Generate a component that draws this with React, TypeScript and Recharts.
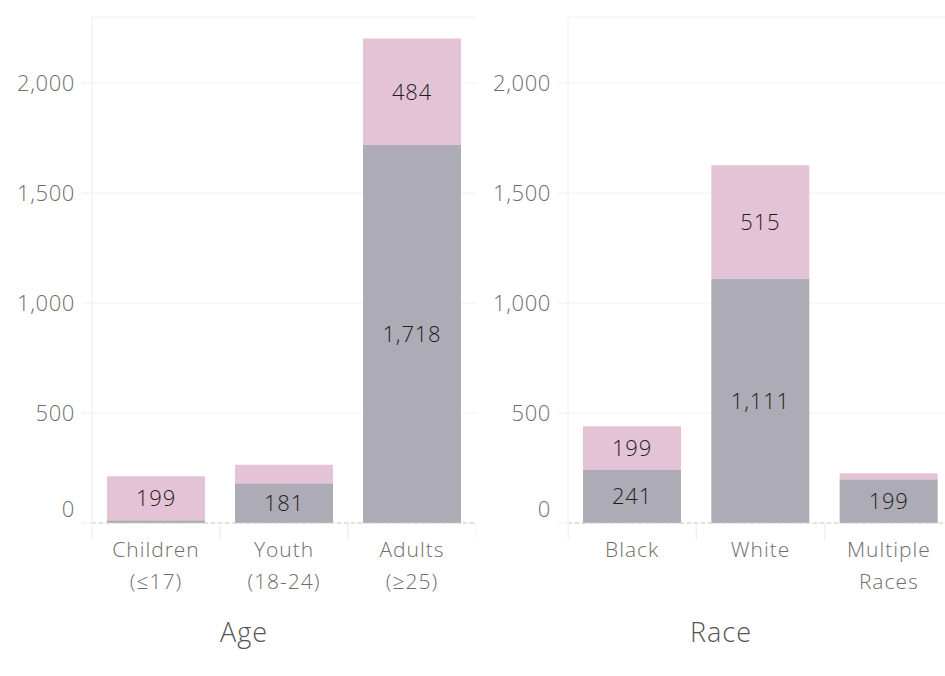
import React from 'react'
import {
  BarChart, Bar, XAxis, YAxis, CartesianGrid, ReferenceLine, LabelList
} from 'recharts'

const ageCategories = ['Children (≤17)', 'Youth (18-24)', 'Adults (≥25)']
const ageTickLines = [['Children', '(≤17)'], ['Youth', '(18-24)'], ['Adults', '(≥25)']]
const ageBase = [13, 181, 1718]
const ageTop = [199, 84, 484]

const raceCategories = ['Black', 'White', 'Multiple Races']
const raceTickLines = [['Black'], ['White'], ['Multiple', 'Races']]
const raceBase = [241, 1111, 199]
const raceTop = [199, 515, 27]

const yTicks = [0, 500, 1000, 1500, 2000]

const FONT = '"Open Sans", sans-serif'
const GRAY = '#adabb5'
const PINK = '#e4c3d7'

const fmt = (v: number) => v.toLocaleString('en-US')

function YTick(props: any) {
  const { x, y, payload } = props
  const shift = payload.value === 0 ? -14 : 0
  return (
    <text x={x} y={y + shift} dy={8} textAnchor="end" fill="#6e6e6e"
      fontFamily={FONT} fontSize={22} fontWeight={300} letterSpacing={0.6}>
      {fmt(payload.value)}
    </text>
  )
}

function makeXTick(lines: string[][]) {
  return function XTick(props: any) {
    const { x, y, payload } = props
    const rows = lines[payload.index] || [String(payload.value)]
    return (
      <g>
        <line x1={x - 64} x2={x - 64} y1={y} y2={y + 17} stroke="#eeeeee" />
        <line x1={x + 64} x2={x + 64} y1={y} y2={y + 17} stroke="#eeeeee" />
        {rows.map((r, i) => (
          <text key={i} x={x} y={y + 34 + i * 32} textAnchor="middle" fill="#6e6e6e"
            fontFamily={FONT} fontSize={21} fontWeight={300} letterSpacing={1}>
            {r}
          </text>
        ))}
      </g>
    )
  }
}

function BarLabel(props: any) {
  const { x, y, width, height, value } = props
  if (value < 150) return null
  return (
    <text x={x + width / 2} y={y + height / 2} dy={8} textAnchor="middle" fill="#1e1e1e"
      fontFamily={FONT} fontSize={22} fontWeight={300} letterSpacing={0.8}>
      {fmt(value)}
    </text>
  )
}

function Panel({ cats, base, top, lines, width }: {
  cats: string[]; base: number[]; top: number[]; lines: string[][]; width: number
}) {
  const data = cats.map((c, i) => ({ name: c, base: base[i], top: top[i] }))
  return (
    <BarChart width={width} height={676} data={data}
      margin={{ top: 17, right: 0, bottom: 0, left: 0 }}>
      <CartesianGrid horizontal vertical={false} stroke="#f0f0f0" />
      <XAxis dataKey="name" type="category" height={153} axisLine={false}
        tickLine={false} tickSize={0} tickMargin={0} interval={0}
        tick={makeXTick(lines)} />
      <YAxis width={92} domain={[0, 2300]} ticks={yTicks} interval={0}
        axisLine={{ stroke: '#eeeeee' }} tickLine={{ stroke: '#eeeeee' }}
        tickSize={10} tickMargin={7} tick={<YTick />} />
      <ReferenceLine y={0} stroke="#cccccc" strokeDasharray="4 3" />
      <Bar dataKey="base" stackId="s" fill={GRAY} barSize={98} isAnimationActive={false}>
        <LabelList dataKey="base" content={<BarLabel />} />
      </Bar>
      <Bar dataKey="top" stackId="s" fill={PINK} barSize={98} isAnimationActive={false}>
        <LabelList dataKey="top" content={<BarLabel />} />
      </Bar>
    </BarChart>
  )
}

const titleStyle: React.CSSProperties = {
  position: 'absolute', top: 613, width: 200, textAlign: 'center',
  fontFamily: FONT, fontSize: 27, fontWeight: 300, color: '#555', letterSpacing: 1
}

export default function App() {
  return (
    <div style={{
      position: 'absolute', left: 0, top: 0, width: 945, height: 676,
      overflow: 'hidden', background: '#fff'
    }}>
      <div style={{ position: 'absolute', left: 0, top: 0 }}>
        <Panel cats={ageCategories} base={ageBase} top={ageTop} lines={ageTickLines} width={476} />
      </div>
      <div style={{ position: 'absolute', left: 476, top: 0 }}>
        <Panel cats={raceCategories} base={raceBase} top={raceTop} lines={raceTickLines} width={477} />
      </div>
      <div style={{ ...titleStyle, left: 144 }}>Age</div>
      <div style={{ ...titleStyle, left: 621 }}>Race</div>
    </div>
  )
}
